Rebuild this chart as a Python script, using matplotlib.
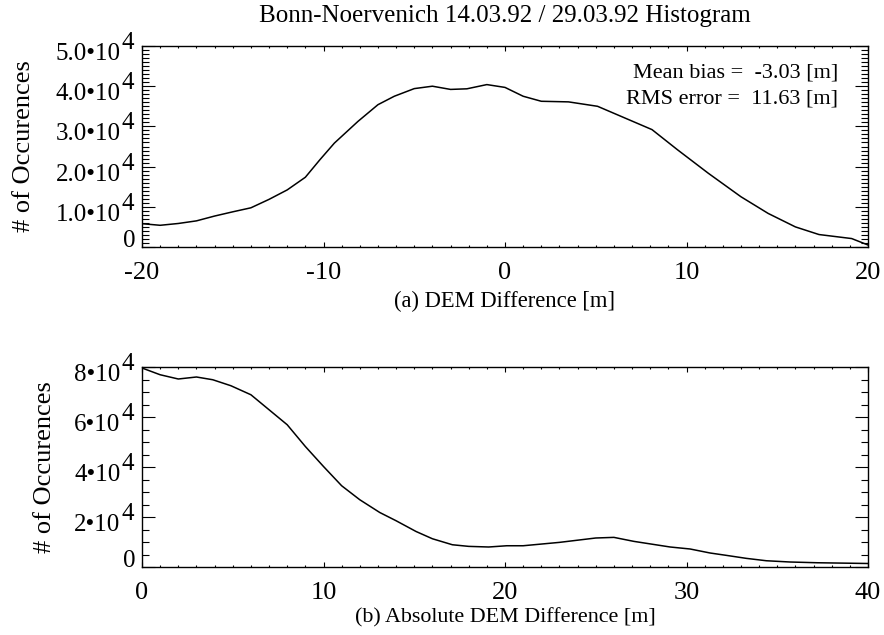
import matplotlib
matplotlib.use("Agg")
import matplotlib.pyplot as plt
from matplotlib.ticker import MultipleLocator
from matplotlib.transforms import blended_transform_factory, ScaledTranslation

plt.rcParams['font.family'] = ['Liberation Serif', 'DejaVu Serif']

# ---- data ----
diff_x = [-20, -19, -18, -17, -16, -15, -14, -13, -12, -11, -10.2, -9.4, -8.1, -7.0, -6.1,
          -5.0, -4.0, -3.0, -2.1, -1.0, 0.0, 1.0, 2.0, 3.5, 5.1, 6.6, 8.1, 9.5, 11.2,
          13.0, 14.5, 16.0, 17.3, 19.1, 20.0]
diff_y = [5800, 5400, 5850, 6500, 7700, 8750, 9750, 11850, 14200, 17350, 21700, 25850, 31250,
          35400, 37500, 39400, 40000, 39200, 39350, 40400, 39700, 37500, 36250, 36100, 35000,
          32100, 29200, 24200, 18350, 12500, 8350, 5000, 3100, 2100, 500]

abs_x = [0, 1, 2, 3, 3.9, 4.9, 6.0, 7.0, 8.0, 9.0, 10.0, 11.0, 12.0, 13.1, 14.0, 15.1, 16.0,
         17.1, 18.0, 19.1, 20.1, 21.0, 23.0, 25.0, 26.0, 27.1, 29.1, 30.2, 31.3, 32.2, 33.3,
         34.4, 35.7, 37.2, 39.1, 40.0]
abs_y = [79600, 76900, 75200, 76000, 74900, 72500, 68900, 62900, 56900, 48200, 40200, 32500,
         26900, 21800, 18500, 14200, 11300, 8900, 8250, 8000, 8500, 8500, 9850, 11600, 11850,
         10250, 8000, 7200, 5600, 4650, 3450, 2500, 2000, 1700, 1500, 1400]

title = "Bonn-Noervenich 14.03.92 / 29.03.92 Histogram"
ylabel = "# of Occurences"
xlabel_a = "(a) DEM Difference [m]"
xlabel_b = "(b) Absolute DEM Difference [m]"
ann_lines = ["Mean bias =  -3.03 [m]", "RMS error =  11.63 [m]"]

yticks_a = [0, 10000, 20000, 30000, 40000, 50000]
ytick_base_a = ["0", "1.0•10", "2.0•10", "3.0•10", "4.0•10", "5.0•10"]
ytick_exp_a = ["", "4", "4", "4", "4", "4"]
yticks_b = [0, 20000, 40000, 60000, 80000]
ytick_base_b = ["0", "2•10", "4•10", "6•10", "8•10"]
ytick_exp_b = ["", "4", "4", "4", "4"]
xticks_a = [-20, -10, 0, 10, 20]
xticks_b = [0, 10, 20, 30, 40]

W, H = 884, 635
fig = plt.figure(figsize=(W / 100, H / 100), dpi=100)

def px_axes(l, t, r, b):
    return fig.add_axes([l / W, 1 - b / H, (r - l) / W, (b - t) / H])

ax1 = px_axes(142, 46, 868, 247)
ax2 = px_axes(142, 367, 868, 567)

TS = 19   # x tick label size
YS = 18   # y tick label size

def off(dx_px, dy_px):
    return ScaledTranslation(dx_px / 100, dy_px / 100, fig.dpi_scale_trans)

def style(ax, xmin_step, ymin_step):
    ax.tick_params(which='both', direction='in', top=True, right=True, width=0.8,
                   labelsize=TS, colors='black')
    ax.tick_params(axis='y', which='major', length=9.5, labelleft=False)
    ax.tick_params(axis='y', which='minor', length=4.8)
    ax.tick_params(axis='x', which='major', length=3.3, pad=10.5)
    ax.tick_params(axis='x', which='minor', length=1.7)
    ax.xaxis.set_minor_locator(MultipleLocator(xmin_step))
    ax.yaxis.set_minor_locator(MultipleLocator(ymin_step))
    for s in ax.spines.values():
        s.set_linewidth(1.0)

def ylabels(ax, ticks, bases, exps):
    bt = blended_transform_factory(ax.transAxes, ax.transData)
    for v, b, e in zip(ticks, bases, exps):
        if e:
            ax.text(0, v, b, transform=bt + off(-21.5, -14), ha='right', va='baseline',
                    fontsize=YS, clip_on=False)
            ax.text(0, v, e, transform=bt + off(-20, -3), ha='left', va='baseline',
                    fontsize=YS, clip_on=False)
        else:
            ax.text(0, v, b, transform=bt + off(-7, 0), ha='right', va='baseline',
                    fontsize=YS, clip_on=False)

ax1.plot(diff_x, diff_y, color='black', lw=1.1)
ax1.set_xlim(-20, 20)
ax1.set_ylim(0, 50000)
ax1.set_xticks(xticks_a)
ax1.set_xticklabels([str(v) for v in xticks_a])
ax1.set_yticks(yticks_a)
style(ax1, 1, 1000)
ylabels(ax1, yticks_a, ytick_base_a, ytick_exp_a)
ax1.set_xlabel(xlabel_a, fontsize=16.3, labelpad=5)
ax1.set_ylabel(ylabel, fontsize=19)
ax1.yaxis.set_label_coords(-0.1475, 0.5)
fig.text(505 / W, 1 - 16 / H, title, ha='center', va='center', fontsize=18)
ax1.text(0.9587, 0.866, ann_lines[0], transform=ax1.transAxes, ha='right', va='center', fontsize=16)
ax1.text(0.9587, 0.736, ann_lines[1], transform=ax1.transAxes, ha='right', va='center', fontsize=16)

ax2.plot(abs_x, abs_y, color='black', lw=1.1)
ax2.set_xlim(0, 40)
ax2.set_ylim(0, 80000)
ax2.set_xticks(xticks_b)
ax2.set_xticklabels([str(v) for v in xticks_b])
ax2.set_yticks(yticks_b)
style(ax2, 1, 5000)
ylabels(ax2, yticks_b, ytick_base_b, ytick_exp_b)
ax2.set_xlabel(xlabel_b, fontsize=15.8, labelpad=3)
ax2.set_ylabel(ylabel, fontsize=19)
ax2.yaxis.set_label_coords(-0.1185, 0.5)

fig.savefig("out.png", dpi=100)
